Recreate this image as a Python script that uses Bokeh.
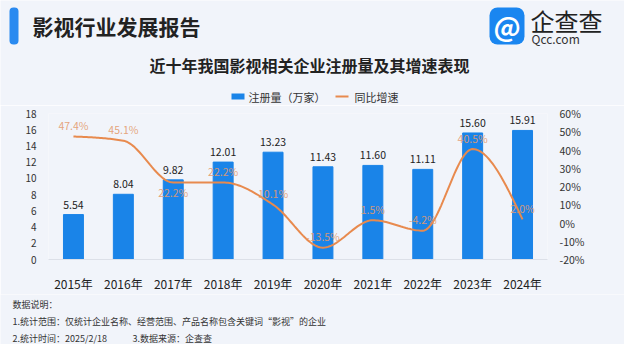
from bokeh.plotting import figure
from bokeh.layouts import column
from bokeh.models import (Range1d, LinearAxis, LabelSet, BoxAnnotation,
                          ColumnDataSource, FixedTicker, PrintfTickFormatter)
from bokeh.core.properties import value
from bokeh.embed import file_html
from bokeh.resources import INLINE

# ---------------- data ----------------
years = ["2015年", "2016年", "2017年", "2018年", "2019年",
         "2020年", "2021年", "2022年", "2023年", "2024年"]
counts = [5.54, 8.04, 9.82, 12.01, 13.23, 11.43, 11.60, 11.11, 15.60, 15.91]
growth = [47.4, 45.1, 22.2, 22.2, 10.1, -13.5, 1.5, -4.2, 40.5, 2.0]
left_ticks = [0, 2, 4, 6, 8, 10, 12, 14, 16, 18]
right_ticks = [-20, -10, 0, 10, 20, 30, 40, 50, 60]

FONT = "Noto Sans CJK SC"
BG = "#F1F4FA"
BAR = "#1A84E8"
LINE = "#E88A4E"
GLAB = "#E39A6C"
TXT = "#222222"
SUB = "#333333"

W = 624
HEAD_H, MAIN_H, FOOT_H = 105, 189, 50


def plain(h):
    f = figure(width=W, height=h, output_backend="svg", toolbar_location=None,
               x_range=Range1d(0, W), y_range=Range1d(h, 0),
               x_axis_location=None, y_axis_location=None,
               min_border=0, min_border_left=0, min_border_right=0,
               min_border_top=0, min_border_bottom=0)
    f.background_fill_color = BG
    f.border_fill_color = BG
    f.outline_line_color = None
    f.grid.visible = False
    return f


def txt(f, x, y, text, size, color=TXT, style="normal", align="left"):
    f.text(x=[x], y=[y], text=[text], text_font=value(FONT),
           text_font_size=value(size), text_color=color,
           text_font_style=style, text_align=align, text_baseline="middle")


def box(f, l, r, t, b, color, radius=0):
    f.add_layout(BoxAnnotation(left=l, right=r, top=t, bottom=b,
                               fill_color=color, fill_alpha=1, line_color=None,
                               border_radius=radius, level="underlay"))


# ---------------- header ----------------
head = plain(HEAD_H)
box(head, 9, 18, 7, 44, "#2A8AF0", 4)
txt(head, 32, 25, "影视行业发展报告", "21px", style="bold")
box(head, 489, 524, 7, 44, "#1A86F0", 8)
txt(head, 506.5, 25, "@", "27px", color="white", style="bold", align="center")
txt(head, 530, 20, "企查查", "24px")
txt(head, 531, 38, "Qcc.com", "12px", color=SUB)
txt(head, 309, 64, "近十年我国影视相关企业注册量及其增速表现", "16px", style="bold", align="center")
box(head, 231, 244, 93, 99, BAR)
txt(head, 248, 96, "注册量（万家）", "11px", color=SUB)
box(head, 335, 348, 95, 97, LINE)
txt(head, 354, 96, "同比增速", "11px", color=SUB)

# ---------------- main chart ----------------
FL, FR, FT, FB = 48, 77, 8, 28
fw, fh = W - FL - FR, MAIN_H - FT - FB

p = figure(width=W, height=MAIN_H, output_backend="svg", toolbar_location=None,
           x_range=Range1d(-0.5, len(years) - 0.5),
           y_range=Range1d(left_ticks[0], left_ticks[-1]),
           min_border_left=FL, min_border_right=FR,
           min_border_top=FT, min_border_bottom=FB)
p.background_fill_color = BG
p.border_fill_color = BG
p.outline_line_color = None
p.grid.visible = False
p.extra_y_ranges = {"g": Range1d(right_ticks[0], right_ticks[-1])}

xs = list(range(len(years)))

xa = p.xaxis[0]
xa.ticker = FixedTicker(ticks=xs)
xa.major_label_overrides = {i: y for i, y in enumerate(years)}
xa.axis_line_color = "#DCE0E8"
xa.major_tick_line_color = None
xa.minor_tick_line_color = None
xa.major_label_text_font = FONT
xa.major_label_text_font_size = "12px"
xa.major_label_text_color = TXT
xa.major_label_standoff = 9

ya = p.yaxis[0]
ya.ticker = FixedTicker(ticks=left_ticks)
ya.axis_line_color = None
ya.major_tick_line_color = None
ya.minor_tick_line_color = None
ya.major_label_text_font = FONT
ya.major_label_text_font_size = "10px"
ya.major_label_text_color = SUB
ya.major_label_standoff = 6

ra = LinearAxis(y_range_name="g", ticker=FixedTicker(ticks=right_ticks),
                formatter=PrintfTickFormatter(format="%d%%"))
ra.axis_line_color = None
ra.major_tick_line_color = None
ra.minor_tick_line_color = None
ra.major_label_text_font = FONT
ra.major_label_text_font_size = "10.5px"
ra.major_label_text_color = SUB
ra.major_label_standoff = 6
p.add_layout(ra, "right")

# bars
p.vbar(x=xs, top=counts, width=0.4, color=BAR)

# smooth growth line: monotone cubic Hermite through the data points
n = len(xs)
sl = [(growth[i + 1] - growth[i]) / (xs[i + 1] - xs[i]) for i in range(n - 1)]
tg = [0.0] * n
for i in range(1, n - 1):
    s0, s1 = sl[i - 1], sl[i]
    if s0 * s1 <= 0:
        tg[i] = 0.0
    else:
        pm = (s0 + s1) / 2
        sgn = 1 if s0 > 0 else -1
        tg[i] = 2 * sgn * min(abs(s0), abs(s1), 0.5 * abs(pm))
tg[0] = (3 * sl[0] - tg[1]) / 2
tg[-1] = (3 * sl[-1] - tg[-2]) / 2
cx, cy = [], []
N = 30
for i in range(n - 1):
    h = xs[i + 1] - xs[i]
    for k in range(N + (1 if i == n - 2 else 0)):
        t = k / N
        h00 = 2 * t ** 3 - 3 * t ** 2 + 1
        h10 = t ** 3 - 2 * t ** 2 + t
        h01 = -2 * t ** 3 + 3 * t ** 2
        h11 = t ** 3 - t ** 2
        cx.append(xs[i] + t * h)
        cy.append(h00 * growth[i] + h10 * h * tg[i] + h01 * growth[i + 1] + h11 * h * tg[i + 1])
p.line(cx, cy, y_range_name="g", line_color=LINE, line_width=2)

# bar value labels
bsrc = ColumnDataSource(dict(x=xs, y=counts, t=["%.2f" % c for c in counts]))
p.add_layout(LabelSet(x="x", y="y", text="t", source=bsrc, y_offset=10,
                      text_align="center", text_baseline="middle",
                      text_font=value(FONT), text_font_size=value("10.5px"),
                      text_color=TXT))

# growth labels: above the point, below it if it would collide with the bar label
ppu_bar = fh / (left_ticks[-1] - left_ticks[0])
ppu_g = fh / (right_ticks[-1] - right_ticks[0])
goff = []
for c, g in zip(counts, growth):
    bar_lab = c * ppu_bar + 10
    g_lab = (g - right_ticks[0]) * ppu_g + 11
    goff.append(-10 if abs(bar_lab - g_lab) < 12 else 11)
gsrc = ColumnDataSource(dict(x=xs, y=growth, t=["%.1f%%" % g for g in growth], o=goff))
p.add_layout(LabelSet(x="x", y="y", text="t", source=gsrc, y_offset="o",
                      y_range_name="g",
                      text_align="center", text_baseline="middle",
                      text_font=value(FONT), text_font_size=value("10.5px"),
                      text_color=GLAB, text_alpha=0.9))

# ---------------- footer ----------------
foot = plain(FOOT_H)
txt(foot, 12, 10, "数据说明：", "9px", color=SUB)
txt(foot, 12, 27, "1.统计范围：仅统计企业名称、经营范围、产品名称包含关键词“影视”的企业", "9px", color=SUB)
txt(foot, 12, 44, "2.统计时间：2025/2/18", "9px", color=SUB)
txt(foot, 132, 44, "3.数据来源：企查查", "9px", color=SUB)

layout = column(column(head), p, column(foot), spacing=0)
open("out.html", "w").write(file_html(layout, INLINE))
